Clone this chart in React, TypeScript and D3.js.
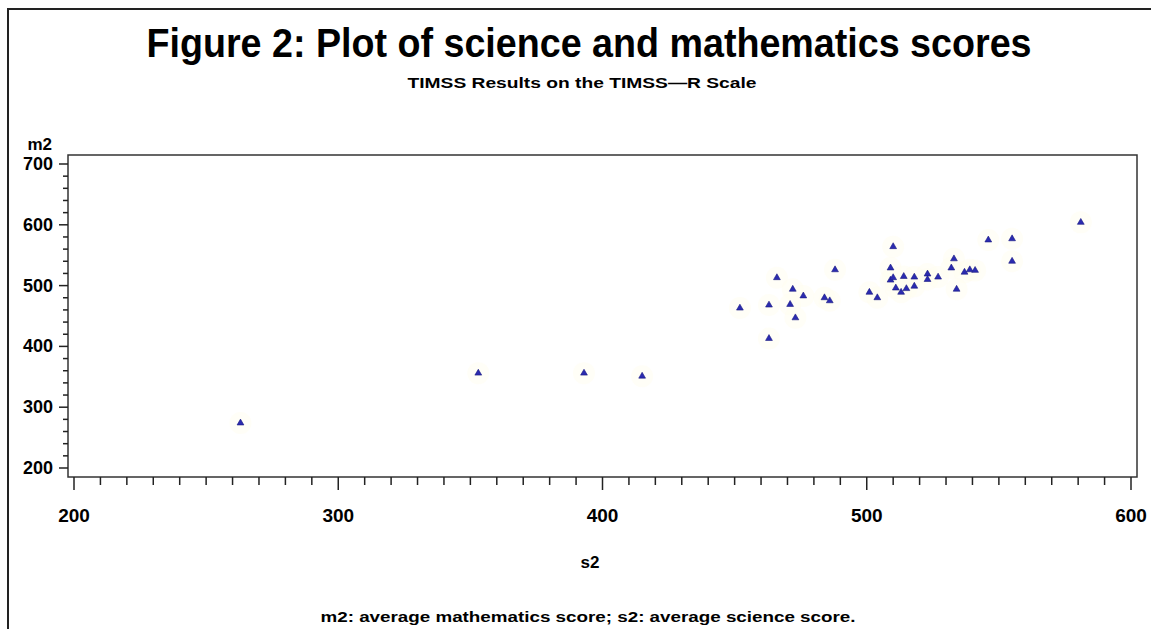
import React, { useRef, useEffect } from 'react';
import * as d3 from 'd3';

// s2 = average science score, m2 = average mathematics score
const scienceScores = [
  263, 353, 393, 415, 452, 463, 463, 466, 472, 471, 473, 476, 484, 486, 488,
  501, 504, 510, 509, 509, 510, 514, 511, 513, 515, 518, 518, 523, 523, 527,
  533, 532, 537, 539, 541, 534, 546, 555, 555, 581,
];
const mathScores = [
  274, 356, 356, 351, 463, 468, 413, 513, 494, 469, 447, 483, 480, 475, 526,
  489, 480, 564, 529, 509, 513, 515, 496, 489, 495, 514, 499, 519, 510, 514,
  544, 529, 522, 526, 525, 494, 575, 577, 540, 604,
];
const xTicks = [200, 300, 400, 500, 600];
const yTicks = [200, 300, 400, 500, 600, 700];

const App = () => {
  const ref = useRef<SVGSVGElement>(null);

  useEffect(() => {
    const svg = d3.select(ref.current);
    svg.selectAll('*').remove();

    const font = 'Arial, "Liberation Sans", Helvetica, sans-serif';
    const frame = { left: 68, top: 155, right: 1137, bottom: 477 };

    const x = d3.scaleLinear().domain([200, 600]).range([74, 1131]);
    const y = d3.scaleLinear().domain([200, 700]).range([468, 164]);

    // outer border (only top and left visible)
    svg.append('line').attr('x1', 7).attr('x2', 1151).attr('y1', 9).attr('y2', 9)
      .attr('stroke', '#222').attr('stroke-width', 2);
    svg.append('line').attr('x1', 8).attr('x2', 8).attr('y1', 8).attr('y2', 629)
      .attr('stroke', '#222').attr('stroke-width', 2);

    svg.append('text')
      .attr('x', 589).attr('y', 57)
      .attr('text-anchor', 'middle')
      .attr('textLength', 885).attr('lengthAdjust', 'spacingAndGlyphs')
      .style('font', `bold 40px ${font}`)
      .text('Figure 2: Plot of science and mathematics scores');

    svg.append('text')
      .attr('x', 582).attr('y', 88)
      .attr('text-anchor', 'middle')
      .attr('textLength', 349).attr('lengthAdjust', 'spacingAndGlyphs')
      .style('font', `bold 14px ${font}`)
      .text('TIMSS Results on the TIMSS\u2014R Scale');

    // plot frame
    svg.append('rect')
      .attr('x', frame.left).attr('y', frame.top)
      .attr('width', frame.right - frame.left).attr('height', frame.bottom - frame.top)
      .attr('fill', 'none').attr('stroke', '#333').attr('stroke-width', 1.5);

    // x axis ticks
    const xg = svg.append('g').attr('stroke', '#222').attr('stroke-width', 1.5);
    d3.range(200, 601, 10).forEach((v) => {
      const major = v % 100 === 0;
      xg.append('line')
        .attr('x1', x(v)).attr('x2', x(v))
        .attr('y1', frame.bottom).attr('y2', frame.bottom + (major ? 13 : 8));
    });
    svg.append('g').selectAll('text').data(xTicks).enter().append('text')
      .attr('x', (d) => x(d)).attr('y', 522)
      .attr('text-anchor', 'middle')
      .style('font', `bold 19px ${font}`)
      .text((d) => d);

    // y axis ticks
    const yg = svg.append('g').attr('stroke', '#222').attr('stroke-width', 1.5);
    d3.range(200, 701, 20).forEach((v) => {
      const major = v % 100 === 0;
      yg.append('line')
        .attr('y1', y(v)).attr('y2', y(v))
        .attr('x1', frame.left).attr('x2', frame.left - (major ? 9 : 5));
    });
    svg.append('g').selectAll('text').data(yTicks).enter().append('text')
      .attr('x', 53).attr('y', (d) => y(d) + 6)
      .attr('text-anchor', 'end')
      .style('font', `bold 18px ${font}`)
      .text((d) => d);

    svg.append('text')
      .attr('x', 52).attr('y', 150)
      .attr('text-anchor', 'end')
      .style('font', `bold 17px ${font}`)
      .text('m2');

    svg.append('text')
      .attr('x', 590).attr('y', 568)
      .attr('text-anchor', 'middle')
      .style('font', `bold 17px ${font}`)
      .text('s2');

    svg.append('text')
      .attr('x', 588).attr('y', 622)
      .attr('text-anchor', 'middle')
      .attr('textLength', 535).attr('lengthAdjust', 'spacingAndGlyphs')
      .style('font', `bold 14px ${font}`)
      .text('m2: average mathematics score; s2: average science score.');

    const pts = scienceScores.map((s, i) => ({ s, m: mathScores[i] }));

    // very faint halo around each point
    svg.append('g').selectAll('circle').data(pts).enter().append('circle')
      .attr('cx', (d) => x(d.s)).attr('cy', (d) => y(d.m))
      .attr('r', 11).attr('fill', '#fffdf0').attr('opacity', 0.5);

    const tri = d3.symbol().type(d3.symbolTriangle).size(20);
    svg.append('g').selectAll('path').data(pts).enter().append('path')
      .attr('transform', (d) => `translate(${x(d.s)},${y(d.m)})`)
      .attr('d', tri)
      .attr('fill', '#2b2bb0')
      .attr('stroke', '#1a1a80').attr('stroke-width', 0.6);
  }, []);

  return (
    <svg
      ref={ref}
      width={1151}
      height={629}
      style={{ position: 'absolute', left: 0, top: 0, background: '#fff' }}
    />
  );
};

export default App;
